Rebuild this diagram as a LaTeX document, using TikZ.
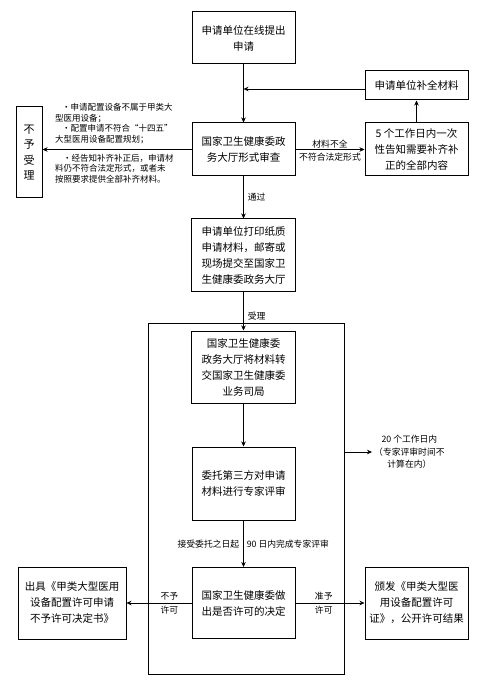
\documentclass[tikz,border=0pt]{standalone}
\usepackage{fontspec}
\setmainfont{Noto Sans CJK SC}
\usetikzlibrary{arrows.meta, calc}
\tikzset{%
    bx/.style={draw, line width=1pt, align=center, inner sep=2pt, font=\fontsize{10.5}{16}\selectfont},
    ar/.style={line width=0.6pt, -{Stealth[length=5pt,width=4.5pt]}},
    lb/.style={font=\fontsize{8.8}{12.5}\selectfont, inner sep=1pt},
    nt/.style={font=\fontsize{8.5}{10.5}\selectfont, align=left, inner sep=0pt},
}
\begin{document}
\begin{tikzpicture}[x=1pt,y=-1pt]
    \useasboundingbox (0,0) rectangle (501,684);
    \node[bx, minimum width=103, minimum height=52] (apply) at (243.5,38) {申请单位在线提出\\申请};
    \node[bx, minimum width=103, minimum height=53] (review) at (243.5,149.5) {国家卫生健康委政\\务大厅形式审查};
    \node[bx, minimum width=103, minimum height=29] (supply) at (416.5,85.5) {申请单位补全材料};
    \node[bx, minimum width=103, minimum height=53] (notify) at (416.5,149.5) {5 个工作日内一次\\性告知需要补齐补\\正的全部内容};
    \node[bx, minimum width=26, minimum height=91, font=\fontsize{11}{15.3}\selectfont] (reject) at (29,152.5) {不\\予\\受\\理};
    \node[bx, minimum width=104, minimum height=72] (submit) at (243.5,255) {申请单位打印纸质\\申请材料，邮寄或\\现场提交至国家卫\\生健康委政务大厅};
    \node[draw, line width=1pt, minimum width=196, minimum height=351, inner sep=0pt] (frame) at (246,498.5) {};
    \node[bx, minimum width=104, minimum height=72] (transfer) at (243.5,367) {国家卫生健康委\\政务大厅将材料转\\交国家卫生健康委\\业务司局};
    \node[bx, minimum width=103, minimum height=73] (expert) at (243.5,483.5) {委托第三方对申请\\材料进行专家评审};
    \node[bx, minimum width=103, minimum height=71] (decide) at (243.5,603) {国家卫生健康委做\\出是否许可的决定};
    \node[bx, minimum width=108, minimum height=72] (refuse) at (72,603) {出具《甲类大型医用\\设备配置许可申请\\不予许可决定书》};
    \node[bx, minimum width=103, minimum height=72] (grant) at (416.5,603) {颁发《甲类大型医\\用设备配置许可\\证》，公开许可结果};
    % notes beside the refusal arrow
    \node[nt, anchor=south west] (noteA) at (55,144) {\hspace*{7pt}·申请配置设备不属于甲类大\\型医用设备；\\\hspace*{7pt}·配置申请不符合“十四五”\\大型医用设备配置规划；};
    \node[nt, anchor=north west] (noteB) at (55,154) {\hspace*{8pt}·经告知补齐补正后，申请材\\料仍不符合法定形式，或者未\\按照要求提供全部补齐材料。};
    \coordinate (join) at (243.5,89);
    \coordinate (out) at (372,452);
    \draw[ar] (apply) -- (review);
    \draw[ar] (supply.west |- join) -- (join);
    \draw[ar] (review) -- node[lb, above]{材料不全} node[lb, below=2pt]{不符合法定形式} (notify);
    \draw[ar] (notify) -- (supply);
    \draw[ar] (review.west) -- (review.west -| reject.east);
    \draw[ar] (review) -- node[lb, right=3pt]{通过} (submit);
    \draw[ar] (submit) -- node[lb, right=3pt, pos=0.62]{受理} (transfer);
    \draw[ar] (transfer) -- (expert);
    \draw[ar] (frame.east |- out) -- (out);
    \node[lb, align=center, anchor=west] (days) at (373,452) {20 个工作日内\\（专家评审时间不\\计算在内）};
    \draw[ar] (expert) -- node[lb, left=3pt]{接受委托之日起} node[lb, right=2pt]{90 日内完成专家评审} (decide);
    \draw[ar] (decide) -- node[lb, above=2pt, pos=0.34]{不予} node[lb, below=2pt, pos=0.34]{许可} (refuse);
    \draw[ar] (decide) -- node[lb, above=2pt, pos=0.41]{准予} node[lb, below=2pt, pos=0.41]{许可} (grant);
\end{tikzpicture}
\end{document}
